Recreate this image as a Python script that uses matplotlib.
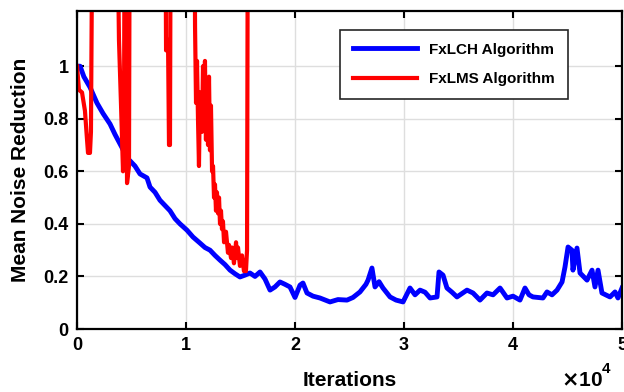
import numpy as np
from matplotlib import pyplot as plt
from matplotlib.ticker import FuncFormatter

plt.rcParams['font.family'] = ['Liberation Sans', 'DejaVu Sans']
plt.rcParams['font.weight'] = 'bold'

# FxLCH: smooth decay, then a noisy floor
lch_iter = [0, 280, 630, 1190, 1830, 2390, 3030, 3490, 4130, 4590, 4860, 5320,
            5780, 6420, 6700, 7160, 7610, 8070, 8530, 8990, 9450, 10090, 10640,
            11280, 11740, 12200, 12660, 13120, 13580, 14040, 14500, 14950, 15410,
            15870, 16330, 16790, 17250, 17710, 18160, 18620, 19080, 19540, 20000,
            20460, 20730, 21100, 21650, 22290, 23210, 23940, 24770, 25320, 25960,
            26510, 26700, 27060, 27340, 27710, 28070, 28720, 29270, 29910, 30550,
            31010, 31470, 31930, 32390, 33030, 33210, 33580, 33940, 34400, 34860,
            35320, 35780, 36330, 36970, 37610, 38170, 38810, 39450, 40000, 40640,
            41100, 41470, 41830, 42750, 43120, 43580, 44040, 44500, 44770, 45050,
            45410, 45500, 45870, 46150, 46790, 47250, 47520, 47800, 48160, 48900,
            49360, 49630, 50000]
lch_val = [1.0, 1.0, 0.96, 0.92, 0.86, 0.82, 0.78, 0.74, 0.69, 0.65, 0.64, 0.62,
           0.59, 0.575, 0.54, 0.52, 0.49, 0.47, 0.45, 0.42, 0.40, 0.376, 0.35,
           0.327, 0.31, 0.30, 0.28, 0.262, 0.245, 0.224, 0.21, 0.198, 0.205,
           0.213, 0.20, 0.217, 0.19, 0.148, 0.16, 0.179, 0.17, 0.16, 0.12,
           0.167, 0.175, 0.137, 0.125, 0.118, 0.103, 0.112, 0.11, 0.12, 0.141,
           0.17, 0.186, 0.232, 0.16, 0.18, 0.156, 0.122, 0.11, 0.103, 0.156,
           0.13, 0.148, 0.14, 0.118, 0.122, 0.217, 0.205, 0.156, 0.14, 0.122,
           0.135, 0.148, 0.137, 0.11, 0.137, 0.13, 0.156, 0.118, 0.125, 0.11,
           0.156, 0.13, 0.122, 0.118, 0.141, 0.13, 0.148, 0.179, 0.236, 0.312,
           0.30, 0.224, 0.308, 0.213, 0.186, 0.224, 0.16, 0.224, 0.137, 0.122,
           0.141, 0.118, 0.156]

# FxLMS: unstable, repeatedly leaves the plotted range and finally diverges
lms_iter = [0, 180, 460, 730, 920, 1010, 1190, 1280, 1470, 3580, 3850, 4040,
            4220, 4310, 4400, 4590, 4770, 4860, 8070, 8170, 8350, 8440, 8530,
            8620, 10730, 10830, 10920, 11010, 11100, 11190, 11280, 11470, 11560,
            11650, 11740, 11830, 11930, 12020, 12110, 12200, 12290, 12390, 12480,
            12570, 12660, 12750, 12840, 12940, 13030, 13120, 13210, 13300, 13390,
            13490, 13670, 13850, 13940, 14130, 14220, 14400, 14590, 14680, 14770,
            14950, 15140, 15320, 15410, 15500, 15600, 15690]
lms_val = [1.0, 0.91, 0.90, 0.83, 0.72, 0.67, 0.67, 0.75, 2.0, 2.0, 1.1, 0.85,
           0.60, 0.78, 2.0, 0.555, 0.62, 2.0, 2.0, 1.06, 1.1, 0.70, 0.70,
           2.0, 2.0, 1.15, 0.86, 1.02, 0.80, 0.62, 0.9, 0.75, 1.0,
           0.85, 1.02, 0.72, 0.95, 0.70, 0.96, 0.68, 0.85, 0.6, 0.62,
           0.5, 0.55, 0.45, 0.52, 0.44, 0.50, 0.40, 0.45, 0.38, 0.41,
           0.33, 0.37, 0.29, 0.32, 0.27, 0.31, 0.25, 0.33, 0.27, 0.31,
           0.24, 0.28, 0.22, 0.26, 0.22, 0.3, 2.0]

fig = plt.figure(figsize=(6.24, 3.92), dpi=100)
ax = fig.add_axes([0.1234, 0.1607, 0.8734, 0.8113])

ax.plot(lch_iter, lch_val, color=(0, 0, 1), linewidth=3.5, label='FxLCH Algorithm')
ax.plot(lms_iter, lms_val, color=(1, 0, 0), linewidth=3.0, label='FxLMS Algorithm')

ax.set_xlim(0, 50000)
ax.set_ylim(0, 1.21)
ax.set_xticks(np.arange(0, 50001, 10000))
ax.set_yticks([0, 0.2, 0.4, 0.6, 0.8, 1.0])
ax.xaxis.set_major_formatter(FuncFormatter(lambda v, p: '%g' % (v / 1e4)))
ax.yaxis.set_major_formatter(FuncFormatter(lambda v, p: '%g' % v))
ax.grid(True, color='#dedede', linewidth=1.0)
ax.set_axisbelow(True)
ax.tick_params(direction='in', length=5, width=1.5, top=True, right=True,
               labelsize=13, pad=6)
for lab in ax.get_xticklabels() + ax.get_yticklabels():
    lab.set_fontweight('bold')
for sp in ax.spines.values():
    sp.set_linewidth(1.6)

ax.set_xlabel('Iterations', fontsize=15, fontweight='bold', labelpad=12)
ax.set_ylabel('Mean Noise Reduction', fontsize=15, fontweight='bold', labelpad=10)

# MATLAB-style exponent below the x axis
fig.text(0.899, 0.004, r'$\times$10', fontsize=15, fontweight='bold', ha='left', va='bottom')
fig.text(0.964, 0.042, '4', fontsize=11, fontweight='bold', ha='left', va='bottom')

leg = ax.legend(loc='upper right', bbox_to_anchor=(0.901, 0.941), borderaxespad=0,
                fontsize=11, handlelength=4.2, borderpad=0.85, labelspacing=1.0,
                fancybox=False, edgecolor='#262626', framealpha=1)
leg.get_frame().set_linewidth(1.2)
for t in leg.get_texts():
    t.set_fontweight('bold')

plt.savefig('out.png', dpi=100)
